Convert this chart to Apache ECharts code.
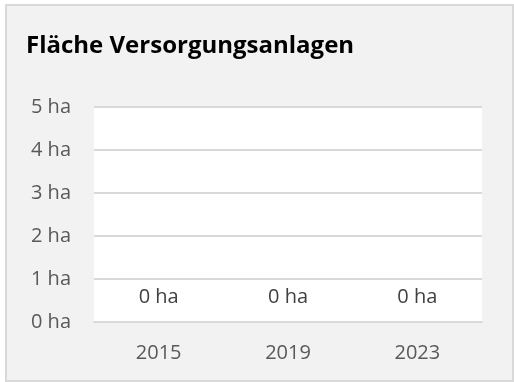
<!DOCTYPE html>
<html>
<head>
<meta charset="utf-8">
<script src="https://cdn.jsdelivr.net/npm/echarts@6/dist/echarts.min.js"></script>
<style>
  html, body { margin: 0; padding: 0; background: #ffffff; }
  #chart { width: 514px; height: 382px; }
</style>
</head>
<body>
<div id="chart"></div>
<script>
// Surface area of supply facilities per survey year (hectares)
const years = ['2015', '2019', '2023'];
const areaHa = [0, 0, 0];
const yTicks = [0, 1, 2, 3, 4, 5];

const chart = echarts.init(document.getElementById('chart'), null, { renderer: 'canvas' });

const font = '"Open Sans", "DejaVu Sans", sans-serif';

chart.setOption({
  backgroundColor: '#ffffff',
  animation: false,
  graphic: [{
    type: 'rect',
    z: -10,
    silent: true,
    shape: { x: 6, y: 5, width: 507, height: 376 },
    style: { fill: '#f2f2f2', stroke: '#d9d9d9', lineWidth: 2 }
  }],
  title: {
    text: 'Fläche Versorgungsanlagen',
    left: 21,
    top: 29,
    textStyle: { fontFamily: font, fontWeight: 'bold', fontSize: 24, color: '#000000' }
  },
  grid: {
    left: 94, right: 32, top: 107, bottom: 60,
    show: true, backgroundColor: '#ffffff', borderWidth: 0,
    containLabel: false
  },
  xAxis: {
    type: 'category',
    data: years,
    axisTick: { show: false },
    axisLine: { show: true, lineStyle: { color: '#d9d9d9', width: 2 } },
    axisLabel: { margin: 21, fontFamily: font, fontSize: 20, color: '#595959' }
  },
  yAxis: {
    type: 'value',
    min: yTicks[0],
    max: yTicks[yTicks.length - 1],
    interval: 1,
    axisLine: { show: false },
    axisTick: { show: false },
    splitLine: { lineStyle: { color: '#d9d9d9', width: 2 } },
    axisLabel: { margin: 23, fontFamily: font, fontSize: 20, color: '#595959', formatter: '{value} ha' }
  },
  series: [{
    type: 'bar',
    data: areaHa,
    barWidth: '50%',
    itemStyle: { color: '#4472c4' },
    label: {
      show: true,
      position: 'top',
      distance: 15,
      fontFamily: font,
      fontSize: 20,
      color: '#404040',
      formatter: '{c} ha'
    }
  }]
});
</script>
</body>
</html>
